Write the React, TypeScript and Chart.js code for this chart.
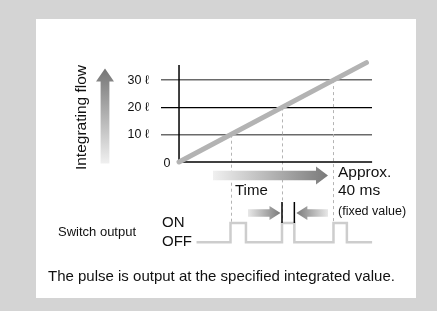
import React, { useEffect, useRef } from "react";
import { Chart, registerables } from "chart.js";

Chart.register(...registerables);

// ---- data ----
const flowTicks = [10, 20, 30];
const tickUnit = " ℓ";
// integrating flow grows linearly with time (x units chosen so flow == time)
const flowLine = [
  { x: 0, y: 0 },
  { x: 36.4, y: 36.4 },
];
// pulse output: rise at each specified integrated value, fixed width
const pulseTriggers = [10, 20, 30];
const pulseEnds = [13.0, 22.4, 32.6];
const offStart = 3.4;
const offEnd = 37.5;
const axisTop = 35.5;
const axisRight = 37.5;

const FONT = "'Liberation Sans', Arial, sans-serif";
const TEXT = "#111111";

function buildPulse() {
  const pts: { x: number; y: number }[] = [{ x: offStart, y: 0 }];
  pulseTriggers.forEach((t, i) => {
    pts.push({ x: t, y: 0 }, { x: t, y: 1 }, { x: pulseEnds[i], y: 1 }, { x: pulseEnds[i], y: 0 });
  });
  pts.push({ x: offEnd, y: 0 });
  return pts;
}

function hArrow(ctx: CanvasRenderingContext2D, x0: number, x1: number, yc: number, sh: number, hh: number, hl: number, cLight: string, cDark: string) {
  const dir = x1 > x0 ? 1 : -1;
  const g = ctx.createLinearGradient(x0, 0, x1, 0);
  g.addColorStop(0, cLight);
  g.addColorStop(1, cDark);
  ctx.save();
  ctx.fillStyle = g;
  ctx.beginPath();
  ctx.moveTo(x0, yc - sh);
  ctx.lineTo(x1 - dir * hl, yc - sh);
  ctx.lineTo(x1 - dir * hl, yc - hh);
  ctx.lineTo(x1, yc);
  ctx.lineTo(x1 - dir * hl, yc + hh);
  ctx.lineTo(x1 - dir * hl, yc + sh);
  ctx.lineTo(x0, yc + sh);
  ctx.closePath();
  ctx.fill();
  ctx.restore();
}

function vArrow(ctx: CanvasRenderingContext2D, xc: number, y0: number, y1: number, sw: number, hw: number, hl: number, cLight: string, cDark: string) {
  const g = ctx.createLinearGradient(0, y0, 0, y1);
  g.addColorStop(0, cLight);
  g.addColorStop(1, cDark);
  ctx.save();
  ctx.fillStyle = g;
  ctx.beginPath();
  ctx.moveTo(xc - sw, y0);
  ctx.lineTo(xc - sw, y1 + hl);
  ctx.lineTo(xc - hw, y1 + hl);
  ctx.lineTo(xc, y1);
  ctx.lineTo(xc + hw, y1 + hl);
  ctx.lineTo(xc + sw, y1 + hl);
  ctx.lineTo(xc + sw, y0);
  ctx.closePath();
  ctx.fill();
  ctx.restore();
}

function text(ctx: CanvasRenderingContext2D, s: string, x: number, y: number, size: number, align: CanvasTextAlign = "left") {
  ctx.fillStyle = TEXT;
  ctx.font = `${size}px ${FONT}`;
  ctx.textAlign = align;
  ctx.textBaseline = "middle";
  ctx.fillText(s, x, y);
}

const decor = {
  id: "decor",
  beforeDraw(chart: any) {
    const ctx = chart.ctx as CanvasRenderingContext2D;
    ctx.save();
    ctx.fillStyle = "#d4d4d4";
    ctx.fillRect(0, 0, chart.width, chart.height);
    ctx.fillStyle = "#ffffff";
    ctx.fillRect(36, 19, 380, 279);
    ctx.restore();
  },
  beforeDatasetsDraw(chart: any) {
    const ctx = chart.ctx as CanvasRenderingContext2D;
    const xs = chart.scales.x, ys = chart.scales.y, yp = chart.scales.yp;
    ctx.save();
    ctx.strokeStyle = "#b4b4b4";
    ctx.lineWidth = 1;
    ctx.setLineDash([3, 3]);
    pulseTriggers.forEach((t) => {
      const px = Math.round(xs.getPixelForValue(t)) + 0.5;
      ctx.beginPath();
      ctx.moveTo(px, ys.getPixelForValue(t));
      ctx.lineTo(px, yp.getPixelForValue(1));
      ctx.stroke();
    });
    ctx.restore();
  },
  afterDraw(chart: any) {
    const ctx = chart.ctx as CanvasRenderingContext2D;
    const xs = chart.scales.x, ys = chart.scales.y, yp = chart.scales.yp;
    ctx.save();
    // y axis title
    ctx.save();
    ctx.translate(81.5, 117.5);
    ctx.rotate(-Math.PI / 2);
    text(ctx, "Integrating flow", 0, 0, 15.5, "center");
    ctx.restore();
    // vertical gradient arrow
    vArrow(ctx, 105, 163.5, 68.5, 4.4, 9, 13, "#f0f0f0", "#757575");
    // zero label
    text(ctx, "0", xs.getPixelForValue(0) - 12, ys.getPixelForValue(0) + 2, 12.5, "center");
    // time arrow
    hArrow(ctx, 213, 328, 175.5, 4.8, 9, 12, "#f0f0f0", "#7a7a7a");
    text(ctx, "Time", 235, 191, 15);
    text(ctx, "Approx.", 338, 172.5, 15.5);
    text(ctx, "40 ms", 338, 191, 15.5);
    text(ctx, "(fixed value)", 338, 212, 12.5);
    // pulse width marker
    const b0 = xs.getPixelForValue(pulseTriggers[1]);
    const b1 = xs.getPixelForValue(pulseEnds[1]);
    hArrow(ctx, 248, b0 - 1.5, 213, 3.8, 7, 11, "#e8e8e8", "#7a7a7a");
    hArrow(ctx, 328, b1 + 2, 213, 3.8, 7, 11, "#e8e8e8", "#7a7a7a");
    ctx.strokeStyle = "#000";
    ctx.lineWidth = 1.5;
    [b0, b1].forEach((bx) => {
      ctx.beginPath();
      ctx.moveTo(bx, 202);
      ctx.lineTo(bx, 223);
      ctx.stroke();
    });
    // switch labels
    text(ctx, "ON", 162, yp.getPixelForValue(1) - 0.5, 15);
    text(ctx, "OFF", 162, yp.getPixelForValue(0) - 0.5, 15);
    text(ctx, "Switch output", 58, 232, 13);
    // caption
    text(ctx, "The pulse is output at the specified integrated value.", 48, 277, 15);
    ctx.restore();
  },
};

export default function App() {
  const ref = useRef<HTMLCanvasElement | null>(null);
  useEffect(() => {
    document.body.style.margin = "0";
    const canvas = ref.current!;
    const chart = new Chart(canvas, {
      type: "scatter",
      data: {
        datasets: [
          {
            label: "y axis",
            data: [{ x: 0, y: 0 }, { x: 0, y: axisTop }],
            showLine: true,
            borderColor: "#000",
            borderWidth: 1.5,
            pointRadius: 0,
            clip: false,
            order: 3,
          },
          {
            label: "x axis",
            data: [{ x: 0, y: 0 }, { x: axisRight, y: 0 }],
            showLine: true,
            borderColor: "#000",
            borderWidth: 1.5,
            pointRadius: 0,
            clip: false,
            order: 2,
          },
          {
            label: "Integrating flow",
            data: flowLine,
            showLine: true,
            borderColor: "#b3b3b3",
            borderWidth: 5,
            borderCapStyle: "round",
            pointRadius: 0,
            clip: false,
            order: 1,
          },
          {
            label: "Switch output",
            data: buildPulse(),
            yAxisID: "yp",
            showLine: true,
            borderColor: "#cdcdcd",
            borderWidth: 2.5,
            pointRadius: 0,
            clip: false,
            order: 4,
          },
        ],
      },
      options: {
        animation: false,
        responsive: false,
        events: [],
        layout: { padding: { left: 0, right: 65, top: 60, bottom: 66 } },
        plugins: { legend: { display: false }, tooltip: { enabled: false } },
        scales: {
          x: { type: "linear", min: -3.5, max: 37.48, display: false },
          y: {
            type: "linear",
            min: -30.4,
            max: 37.36,
            position: "left",
            afterFit: (s: any) => {
              s.width = 161;
            },
            afterBuildTicks: (s: any) => {
              s.ticks = flowTicks.map((v) => ({ value: v }));
            },
            border: { display: false },
            grid: {
              drawTicks: false,
              color: (c: any) => (c.tick && c.tick.value === 20 ? "#000000" : "#6a6a6a"),
              lineWidth: (c: any) => (c.tick && c.tick.value === 20 ? 1.2 : 1.6),
            },
            ticks: {
              padding: 12,
              color: TEXT,
              font: { family: FONT, size: 12.5 },
              callback: (v: any) => `${v}${tickUnit}`,
            },
          },
          yp: { type: "linear", min: -0.14, max: 9.446, display: false },
        },
      },
      plugins: [decor],
    });
    return () => chart.destroy();
  }, []);
  return (
    <canvas
      ref={ref}
      width={437}
      height={311}
      style={{ position: "absolute", left: 0, top: 0, width: 437, height: 311 }}
    />
  );
}
